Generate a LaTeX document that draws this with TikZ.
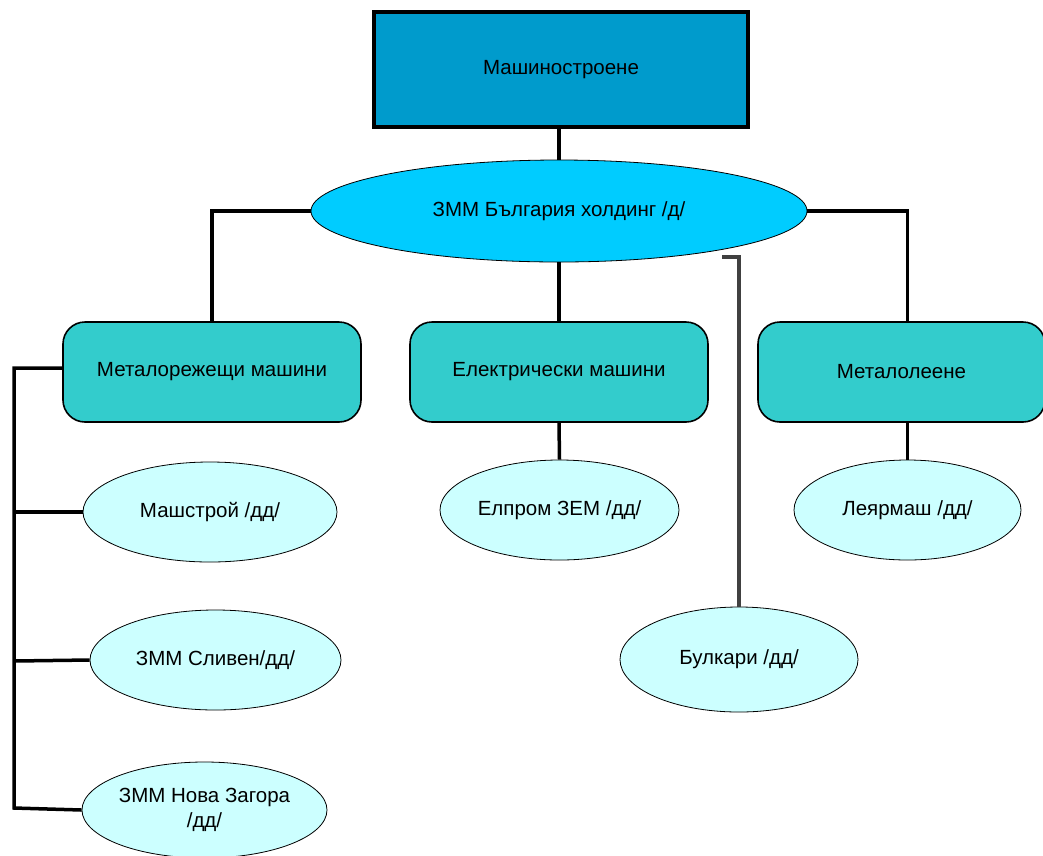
\documentclass[tikz,border=0pt]{standalone}
\usepackage{fontspec}
\setmainfont{Liberation Sans}
\usetikzlibrary{shapes.geometric}
\definecolor{topblue}{RGB}{0,155,204}
\definecolor{holdcyan}{RGB}{0,204,255}
\definecolor{sectteal}{RGB}{51,204,204}
\definecolor{firmcyan}{RGB}{204,255,255}
\definecolor{linegray}{RGB}{64,64,64}
\tikzstyle{topbox} = [draw, line width=3.5pt, fill=topblue, minimum width=374pt, minimum height=115pt, inner sep=0pt]
\tikzstyle{holding} = [ellipse, draw, line width=0.8pt, fill=holdcyan, minimum width=496pt, minimum height=102pt, inner sep=0pt]
\tikzstyle{sector} = [draw, line width=1.6pt, rounded corners=22pt, fill=sectteal, minimum width=298pt, minimum height=100pt, inner sep=0pt]
\tikzstyle{firm} = [ellipse, draw, line width=0.8pt, fill=firmcyan, minimum width=240pt, minimum height=100pt, inner sep=0pt, align=center]
\tikzstyle{link} = [line width=3.5pt, black]

\begin{document}
\begin{tikzpicture}[x=1pt, y=-1pt, every node/.style={font=\fontsize{20.5}{25}\selectfont}]
\useasboundingbox (0,0) rectangle (1043,855);
          % Node positions
          \node[topbox] (M) at (561,69.5) {Машиностроене};
          \node[holding] (H) at (559,211) {ЗММ България холдинг /д/};
          \node[sector] (S1) at (212,372) {Металорежещи машини};
          \node[sector] (S2) at (559,372) {Електрически машини};
          \node[sector, minimum width=287pt] (S3) at (901.5,372) {Металолеене};
          \node[firm, minimum width=254pt] (F1) at (210,512) {Машстрой /дд/};
          \node[firm, minimum width=251pt] (F2) at (215.5,660) {ЗММ Сливен/дд/};
          \node[firm, minimum width=245pt, minimum height=96pt] (F3) at (204.5,810) {ЗММ Нова Загора\\/дд/};
          \node[firm, minimum width=239pt] (F4) at (559.5,510) {Елпром ЗЕМ /дд/};
          \node[firm, minimum width=227pt] (F5) at (907.5,510) {Леярмаш /дд/};
          \node[firm, minimum width=238pt, minimum height=105pt] (F6) at (739,659.5) {Булкари /дд/};
          \coordinate (L) at (14,368);
          \coordinate (G) at (722,257);

          % Edges
          \draw[link] (H.north |- M.south) -- (H.north);
          \draw[link] (H.west) -| (S1.north);
          \draw[link] (H.south) -- (S2.north);
          \draw[link] (H.east) -- (H.east -| F5.north) -- (F5.north |- S3.north);
          \draw[line width=3.5pt, linegray] (G) -- (G -| F6.north) -- (F6.north);
          \draw[link] (S1.west |- L) -- (L) -- (14,808) -- (F3.west);
          \draw[link] (14,512) -- (F1.west);
          \draw[link] (14,661) -- (F2.west);
          \draw[link] (S2.south) -- (F4.north);
          \draw[link] (F5.north |- S3.south) -- (F5.north);

        \end{tikzpicture}
\end{document}
